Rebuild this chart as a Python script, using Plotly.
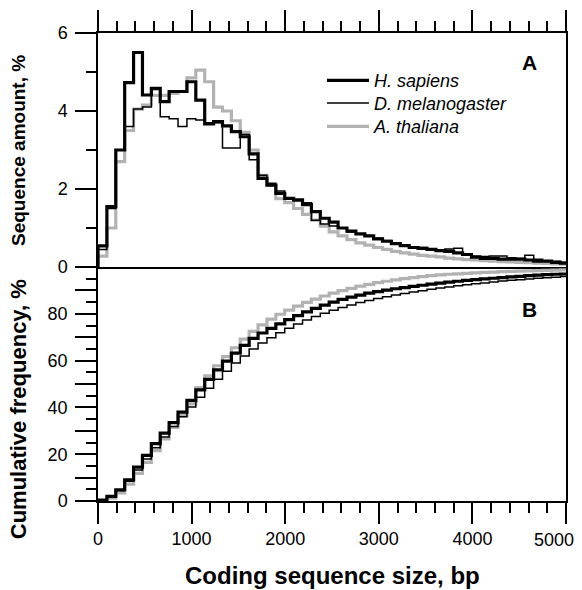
import plotly.graph_objects as go

# ---- data ----
bin_start_bp = [0, 95, 190, 285, 380, 475, 570, 665, 760, 855, 950, 1045, 1140, 1235,
                1330, 1425, 1520, 1615, 1710, 1805, 1900, 1995, 2090, 2185, 2280, 2375,
                2470, 2565, 2660, 2755, 2850, 2945, 3040, 3135, 3230, 3325, 3420, 3515,
                3610, 3705, 3800, 3895, 3990, 4085, 4180, 4275, 4370, 4465, 4560, 4655,
                4750, 4845, 4940]
last_bin_end_bp = 5035

x_tick_values = [0, 1000, 2000, 3000, 4000, 5000]
x_tick_labels = ["0", "1000", "2000", "3000", "4000", ""]
x_last_label = "5000"   # drawn separately, nudged left so it stays inside the page

# Panel A: sequence amount, % per bin
hs_amount = [0.54, 1.55, 3.0, 4.73, 5.5, 4.41, 4.58, 4.24, 4.5, 4.5, 4.75, 4.28, 3.67, 3.73,
             3.62, 3.47, 3.34, 2.9, 2.27, 2.1, 1.89, 1.76, 1.72, 1.6, 1.42, 1.25,
             1.15, 1.0, 0.92, 0.85, 0.8, 0.72, 0.66, 0.6, 0.55, 0.5, 0.48, 0.45,
             0.42, 0.4, 0.36, 0.32, 0.25, 0.22, 0.22, 0.2, 0.2, 0.2, 0.18, 0.15,
             0.15, 0.12, 0.1]
dm_amount = [0.45, 1.5, 3.0, 3.6, 4.05, 4.1, 4.55, 3.85, 3.8, 3.6, 3.8, 3.77, 3.7, 3.7,
             3.05, 3.05, 3.4, 2.75, 2.35, 2.15, 1.95, 1.75, 1.7, 1.65, 1.2, 1.1,
             1.05, 1.0, 0.9, 0.85, 0.8, 0.74, 0.68, 0.62, 0.56, 0.52, 0.5, 0.47,
             0.44, 0.46, 0.48, 0.32, 0.28, 0.27, 0.28, 0.28, 0.24, 0.22, 0.3, 0.2,
             0.16, 0.15, 0.12]
at_amount = [0.28, 1.0, 2.7, 3.5, 4.05, 4.15, 4.4, 4.4, 4.45, 4.5, 4.85, 5.05, 4.75, 4.1,
             4.0, 3.75, 3.45, 3.0, 2.35, 2.1, 1.75, 1.65, 1.5, 1.35, 1.2, 1.05,
             0.9, 0.8, 0.7, 0.62, 0.56, 0.5, 0.45, 0.4, 0.36, 0.33, 0.3, 0.28,
             0.26, 0.23, 0.21, 0.19, 0.18, 0.16, 0.15, 0.14, 0.13, 0.12, 0.11, 0.1,
             0.09, 0.08, 0.07]

# Panel B: cumulative frequency, %
hs_cum = [0.4, 2.0, 4.8, 9.0, 14.5, 19.5, 24.5, 29.0, 33.5, 38.0, 43.0, 47.5, 52.0, 56.0,
          59.8, 63.2, 66.5, 69.5, 71.8, 73.8, 75.7, 77.5, 79.2, 80.8, 82.3, 83.7,
          85.0, 86.2, 87.1, 88.0, 88.8, 89.5, 90.1, 90.7, 91.2, 91.7, 92.2, 92.7,
          93.1, 93.5, 93.9, 94.3, 94.6, 94.9, 95.2, 95.5, 95.8, 96.0, 96.3, 96.5,
          96.7, 96.9, 97.0]
dm_cum = [0.3, 1.8, 4.4, 8.4, 13.3, 18.0, 22.8, 27.4, 31.8, 36.0, 40.2, 44.3, 48.2, 52.0,
          55.5, 59.0, 62.0, 65.0, 67.5, 69.8, 71.9, 73.8, 75.6, 77.3, 78.8, 80.2,
          81.5, 82.7, 83.8, 84.8, 85.7, 86.5, 87.3, 88.0, 88.7, 89.3, 89.9, 90.5,
          91.0, 91.5, 92.0, 92.4, 92.8, 93.2, 93.6, 94.0, 94.3, 94.6, 94.9, 95.2,
          95.4, 95.6, 95.9]
at_cum = [0.2, 1.2, 3.5, 7.2, 11.8, 16.5, 21.5, 26.5, 31.5, 36.5, 41.5, 48.5, 53.5, 57.8,
          61.7, 65.5, 69.2, 72.5, 75.3, 77.7, 79.8, 81.6, 83.3, 84.9, 86.3, 87.6,
          88.8, 89.9, 90.9, 91.8, 92.6, 93.3, 93.9, 94.5, 95.0, 95.5, 95.9, 96.3,
          96.6, 96.9, 97.1, 97.3, 97.5, 97.7, 97.85, 98.0, 98.1, 98.2, 98.35, 98.45,
          98.55, 98.65, 98.75]

species = ["H. sapiens", "D. melanogaster", "A. thaliana"]
amounts = [hs_amount, dm_amount, at_amount]
cums = [hs_cum, dm_cum, at_cum]
colors = ["black", "black", "#b2b2b2"]
widths = [3.2, 1.5, 3.2]
legend_ids = ["legend", "legend2", "legend3"]


def step_xy(values):
    xs = [bin_start_bp[0]] + bin_start_bp + [last_bin_end_bp]
    ys = [0] + list(values) + [values[-1]]
    return xs, ys


fig = go.Figure()
# grey first, thick black on top
for idx in [2, 1, 0]:
    xs, ys = step_xy(amounts[idx])
    fig.add_trace(go.Scatter(x=xs, y=ys, mode="lines", name="<i>%s</i>" % species[idx],
                             line=dict(shape="hv", color=colors[idx], width=widths[idx]),
                             xaxis="x", yaxis="y", showlegend=True, legend=legend_ids[idx]))
for idx in [2, 1, 0]:
    xs, ys = step_xy(cums[idx])
    fig.add_trace(go.Scatter(x=xs, y=ys, mode="lines", name=species[idx],
                             line=dict(shape="hv", color=colors[idx], width=widths[idx]),
                             xaxis="x2", yaxis="y2", showlegend=False))

axis_common = dict(showline=True, linecolor="black", linewidth=1.5, automargin=False,
                   showgrid=False, zeroline=False, ticks="outside", tickcolor="black",
                   tickwidth=1.5, ticklen=21)
minor_common = dict(ticks="outside", ticklen=10, tickwidth=1.5, tickcolor="black", showgrid=False)


def legend_box(ypos):
    return dict(x=0.4786, y=ypos, xanchor="left", yanchor="middle",
                bgcolor="rgba(0,0,0,0)", font=dict(size=18), itemwidth=42,
                borderwidth=0)


fig.update_layout(
    width=582, height=590,
    margin=dict(l=98, r=16, t=33, b=89, autoexpand=False),
    plot_bgcolor="white", paper_bgcolor="white",
    font=dict(family="Liberation Sans, Arial, sans-serif", size=18, color="black"),
    legend=legend_box(0.898),
    legend2=legend_box(0.8498),
    legend3=legend_box(0.7998),
    xaxis=dict(domain=[0, 1], anchor="y", side="top", range=[0, 5000], mirror=True,
               dtick=1000, tick0=0, showticklabels=False,
               minor=dict(dtick=200, tick0=0, **minor_common), **axis_common),
    xaxis2=dict(domain=[0, 1], anchor="y2", side="bottom", range=[0, 5000], mirror=False,
                tickvals=x_tick_values, ticktext=x_tick_labels, showticklabels=True,
                minor=dict(dtick=200, tick0=0, **minor_common), **axis_common),
    yaxis=dict(domain=[0.5, 1], anchor="x", range=[0, 6], dtick=2, tick0=0, mirror=True,
               ticklabelstandoff=4,
               minor=dict(dtick=1, tick0=0, **minor_common), **axis_common),
    yaxis2=dict(domain=[0, 0.5], anchor="x2", range=[0, 100], mirror=True,
                tickvals=[0, 10, 20, 30, 40, 50, 60, 70, 80, 90],
                ticktext=["0", "", "20", "", "40", "", "60", "", "80", ""],
                ticklabelstandoff=4,
                minor=dict(dtick=5, tick0=0, **minor_common), **axis_common),
    yaxis3=dict(overlaying="y", side="right", anchor="x", range=[0, 6], dtick=1, tick0=0,
                ticks="outside", ticklen=10, tickwidth=1.5, tickcolor="black", automargin=False,
                showticklabels=False, showgrid=False, zeroline=False, showline=False),
    yaxis4=dict(overlaying="y2", side="right", anchor="x2", range=[0, 100], dtick=5, tick0=0,
                ticks="outside", ticklen=10, tickwidth=1.5, tickcolor="black", automargin=False,
                showticklabels=False, showgrid=False, zeroline=False, showline=False),
)

annotations = [
    dict(text="<b>Sequence amount, %</b>", x=-0.171, y=0.75, textangle=-90,
         font=dict(size=19), xref="paper", yref="paper"),
    dict(text="<b>Cumulative frequency, %</b>", x=-0.171, y=0.196, textangle=-90,
         font=dict(size=22), xref="paper", yref="paper"),
    dict(text="<b>Coding sequence size, bp</b>", x=0.502, y=-0.16,
         font=dict(size=24), xref="paper", yref="paper"),
    dict(text="<b>A</b>", x=0.923, y=0.936, font=dict(size=21), xref="paper", yref="paper"),
    dict(text="<b>B</b>", x=0.923, y=0.41, font=dict(size=21), xref="paper", yref="paper"),
    dict(text=x_last_label, x=x_tick_values[-1], y=0, xref="x2", yref="y2",
         xshift=-12, yshift=-39, font=dict(size=18)),
]
for a in annotations:
    a.update(showarrow=False, xanchor="center", yanchor="middle")
fig.update_layout(annotations=annotations)

fig.write_html("out.html")
